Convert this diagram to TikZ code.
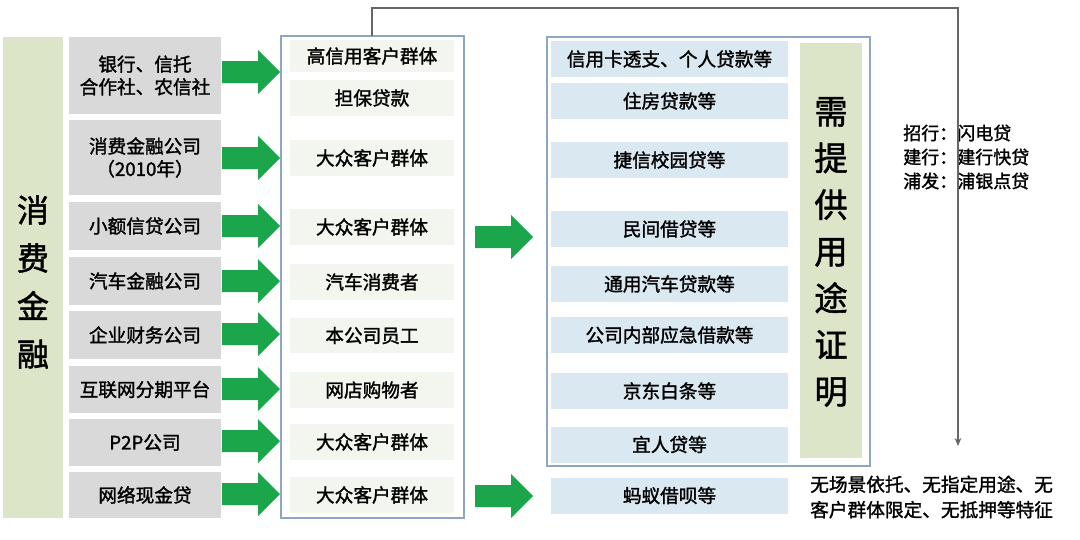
\documentclass[tikz,border=0pt]{standalone}
\usepackage{fontspec}
\setmainfont{Noto Sans CJK SC}[FakeBold=1.5]
\usetikzlibrary{arrows.meta}
\definecolor{gbg}{HTML}{DDE5C8}
\definecolor{gry}{HTML}{D9D9D9}
\definecolor{pale}{HTML}{F3F6EE}
\definecolor{lblue}{HTML}{DAE9F1}
\definecolor{arr}{HTML}{1BA64B}
\definecolor{bord}{HTML}{8EA6C4}
\begin{document}
\begin{tikzpicture}[x=0.75pt,y=-0.75pt,
  box/.style={inner sep=0pt,font=\fontsize{14}{17}\selectfont,align=center},
  greybox/.style={box,fill=gry},
  palebox/.style={box,fill=pale},
  bluebox/.style={box,fill=lblue},
  garr/.pic={\fill[arr] (0,-11) -- (36,-11) -- (36,-22) -- (58,0) -- (36,22) -- (36,11) -- (0,11) -- cycle;},
  big/.style={font=\fontsize{24}{36}\selectfont,align=center,inner sep=0pt}]
\useasboundingbox (0,0) rectangle (1080,539);
% left column
\fill[gbg] (3,37) rectangle (63,518);
\node[big] (xf) at (33,282) {消\\费\\金\\融};
% grey boxes
\node[greybox,minimum width=114pt,minimum height=57.75pt] (g1) at (145,75.5) {银行、信托\\合作社、农信社};
\node[greybox,minimum width=114pt,minimum height=56.25pt] (g2) at (145,157.5) {消费金融公司\\（2010年）};
\node[greybox,minimum width=114pt,minimum height=36pt] (g3) at (145,226) {小额信贷公司};
\node[greybox,minimum width=114pt,minimum height=36pt] (g4) at (145,281) {汽车金融公司};
\node[greybox,minimum width=114pt,minimum height=36pt] (g5) at (145,335) {企业财务公司};
\node[greybox,minimum width=114pt,minimum height=35.25pt] (g6) at (145,389.5) {互联网分期平台};
\node[greybox,minimum width=114pt,minimum height=35.25pt] (g7) at (145,442.5) {P2P公司};
\node[greybox,minimum width=114pt,minimum height=34.5pt] (g8) at (145,495) {网络现金贷};
% middle box
\draw[bord,line width=1pt] (281,36) rectangle (464,518);
\coordinate (mtop) at (372,36);
\foreach \n/\y/\h/\t in {m1/56/32/高信用客户群体, m2/98/36/担保贷款, m3/158/36/大众客户群体, m4/227/36/大众客户群体, m5/282/36/汽车消费者, m6/335.5/35/本公司员工, m7/390/36/网店购物者, m8/442/36/大众客户群体, m9/495/36/大众客户群体}
  \node[palebox,minimum width=123pt,minimum height=\h*0.75pt] (\n) at (372,\y) {\t};
% arrows
\foreach \y in {72,158,226,281,334,389,441,494}
  \pic at (222,\y) {garr};
\pic at (475,237) {garr};
\pic at (475,496) {garr};
% right box
\draw[bord,line width=1pt] (547,37) rectangle (870,466);
\foreach \n/\y/\t in {r1/59/信用卡透支、个人贷款等, r2/101/住房贷款等, r3/160/捷信校园贷等, r4/229/民间借贷等, r5/284/通用汽车贷款等, r6/335/公司内部应急借款等, r7/391/京东白条等, r8/444.5/宜人贷等, r9/495.5/蚂蚁借呗等}
  \node[bluebox,minimum width=177.75pt,minimum height=27pt] (\n) at (669.5,\y) {\t};
\fill[gbg] (800,43) rectangle (862,458);
\node[big,font=\fontsize{25}{35}\selectfont] (xu) at (831,252) {需\\提\\供\\用\\途\\证\\明};
% right notes
\node[box,anchor=west,align=left,font=\fontsize{13.5}{18}\selectfont] (note) at (903,157) {招行：闪电贷\\建行：建行快贷\\浦发：浦银点贷};
\node[box,anchor=west,align=left,font=\fontsize{14}{19}\selectfont] (feat) at (810,497) {无场景依托、无指定用途、无\\客户群体限定、无抵押等特征};
% connector
\coordinate (c1) at (372,8);
\coordinate (c2) at (958,8);
\coordinate (c3) at (958,446);
\draw[gray!80!black,line width=0.8pt,-{Stealth[length=6pt,width=5pt]}] (mtop) -- (c1) -- (c2) -- (c3);
\end{tikzpicture}
\end{document}
